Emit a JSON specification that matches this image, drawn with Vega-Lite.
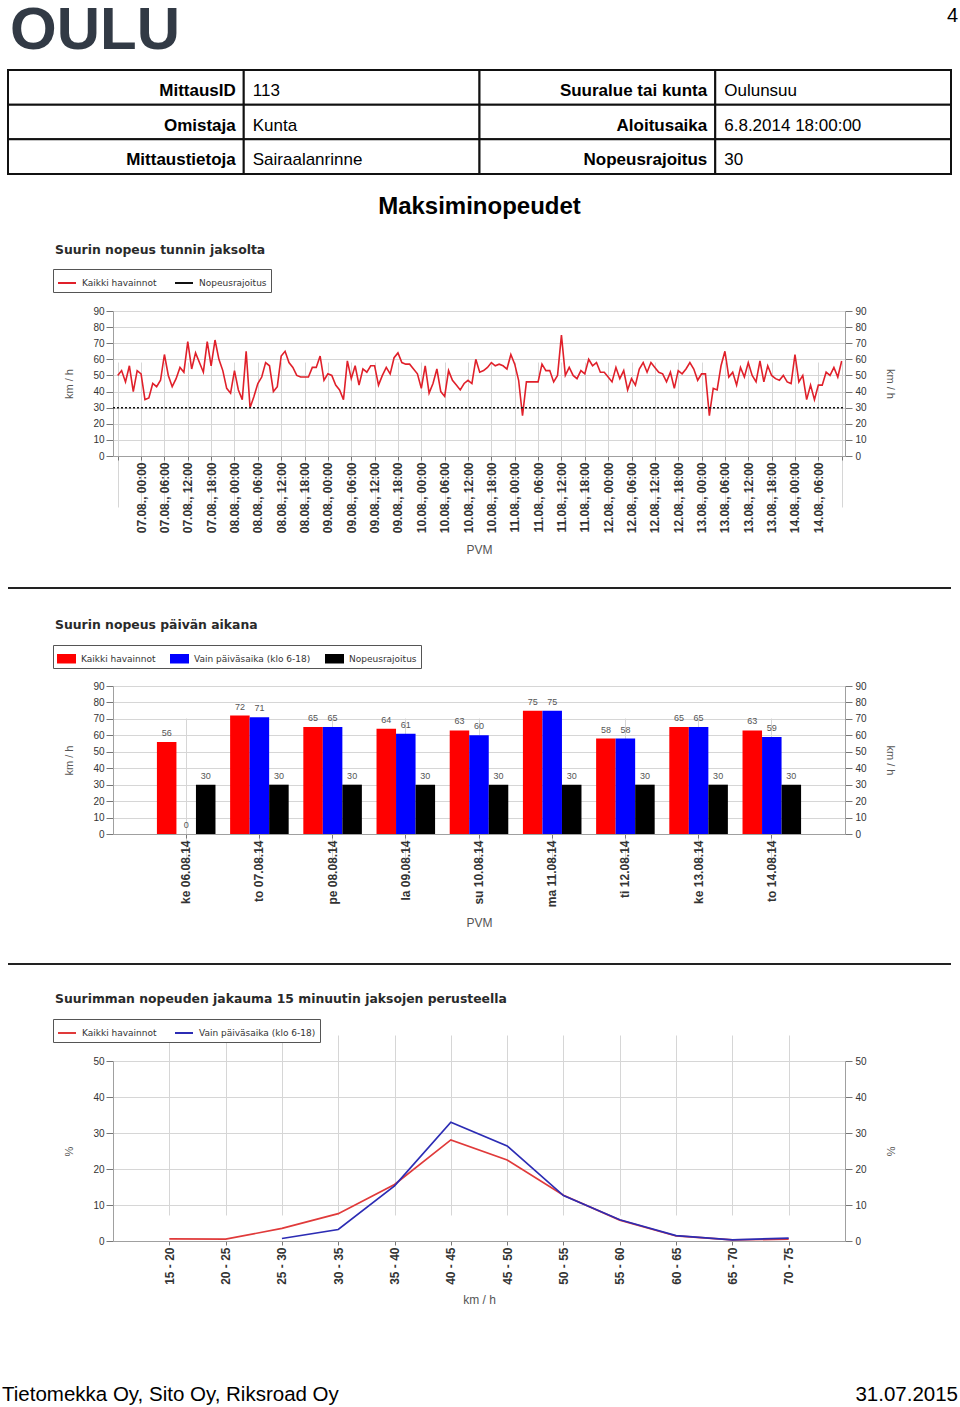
{
"$schema": "https://vega.github.io/schema/vega-lite/v6.json",
"padding": 0,
"background": "white",
"spacing": 0,
"resolve": {"scale": {"color": "independent"}, "legend": {"color": "independent"}},
"datasets": {
"table": [
{"row":1,"rowEnd":2,"col":0,"colEnd":1,"text":"MittausID","kind":"label"},
{"row":1,"rowEnd":2,"col":1,"colEnd":2,"text":"113","kind":"value"},
{"row":1,"rowEnd":2,"col":2,"colEnd":3,"text":"Suuralue tai kunta","kind":"label"},
{"row":1,"rowEnd":2,"col":3,"colEnd":4,"text":"Oulunsuu","kind":"value"},
{"row":2,"rowEnd":3,"col":0,"colEnd":1,"text":"Omistaja","kind":"label"},
{"row":2,"rowEnd":3,"col":1,"colEnd":2,"text":"Kunta","kind":"value"},
{"row":2,"rowEnd":3,"col":2,"colEnd":3,"text":"Aloitusaika","kind":"label"},
{"row":2,"rowEnd":3,"col":3,"colEnd":4,"text":"6.8.2014 18:00:00","kind":"value"},
{"row":3,"rowEnd":4,"col":0,"colEnd":1,"text":"Mittaustietoja","kind":"label"},
{"row":3,"rowEnd":4,"col":1,"colEnd":2,"text":"Sairaalanrinne","kind":"value"},
{"row":3,"rowEnd":4,"col":2,"colEnd":3,"text":"Nopeusrajoitus","kind":"label"},
{"row":3,"rowEnd":4,"col":3,"colEnd":4,"text":"30","kind":"value"}
],
"hourly": [
{"h":0,"v":50},{"h":1,"v":53},{"h":2,"v":46},{"h":3,"v":56},{"h":4,"v":40},{"h":5,"v":53},
{"h":6,"v":51},{"h":7,"v":35},{"h":8,"v":36},{"h":9,"v":45},{"h":10,"v":43},{"h":11,"v":47},{"h":12,"v":63},{"h":13,"v":50},{"h":14,"v":43},{"h":15,"v":48},{"h":16,"v":55},{"h":17,"v":52},
{"h":18,"v":71},{"h":19,"v":54},{"h":20,"v":64},{"h":21,"v":58},{"h":22,"v":52},{"h":23,"v":71},{"h":24,"v":56},{"h":25,"v":72},{"h":26,"v":60},{"h":27,"v":53},{"h":28,"v":42},{"h":29,"v":39},
{"h":30,"v":53},{"h":31,"v":41},{"h":32,"v":35},{"h":33,"v":65},{"h":34,"v":30},{"h":35,"v":37},{"h":36,"v":45},{"h":37,"v":49},{"h":38,"v":58},{"h":39,"v":56},{"h":40,"v":40},{"h":41,"v":43},
{"h":42,"v":62},{"h":43,"v":65},{"h":44,"v":58},{"h":45,"v":55},{"h":46,"v":50},{"h":47,"v":49},{"h":48,"v":49},{"h":49,"v":49},{"h":50,"v":55},{"h":51,"v":55},{"h":52,"v":62},{"h":53,"v":47},
{"h":54,"v":51},{"h":55,"v":50},{"h":56,"v":44},{"h":57,"v":41},{"h":58,"v":35},{"h":59,"v":59},{"h":60,"v":48},{"h":61,"v":56},{"h":62,"v":44},{"h":63,"v":54},{"h":64,"v":52},{"h":65,"v":56},
{"h":66,"v":56},{"h":67,"v":44},{"h":68,"v":50},{"h":69,"v":55},{"h":70,"v":51},{"h":71,"v":61},{"h":72,"v":64},{"h":73,"v":58},{"h":74,"v":57},{"h":75,"v":57},{"h":76,"v":54},{"h":77,"v":51},
{"h":78,"v":42},{"h":79,"v":56},{"h":80,"v":39},{"h":81,"v":45},{"h":82,"v":54},{"h":83,"v":40},{"h":84,"v":37},{"h":85,"v":53},{"h":86,"v":47},{"h":87,"v":44},{"h":88,"v":41},{"h":89,"v":45},
{"h":90,"v":47},{"h":91,"v":45},{"h":92,"v":60},{"h":93,"v":52},{"h":94,"v":53},{"h":95,"v":55},{"h":96,"v":58},{"h":97,"v":56},{"h":98,"v":57},{"h":99,"v":56},{"h":100,"v":54},{"h":101,"v":63},
{"h":102,"v":57},{"h":103,"v":47},{"h":104,"v":25},{"h":105,"v":46},{"h":106,"v":46},{"h":107,"v":46},{"h":108,"v":46},{"h":109,"v":57},{"h":110,"v":53},{"h":111,"v":53},{"h":112,"v":46},{"h":113,"v":50},
{"h":114,"v":75},{"h":115,"v":50},{"h":116,"v":55},{"h":117,"v":50},{"h":118,"v":48},{"h":119,"v":53},{"h":120,"v":51},{"h":121,"v":60},{"h":122,"v":56},{"h":123,"v":58},{"h":124,"v":52},{"h":125,"v":52},
{"h":126,"v":49},{"h":127,"v":46},{"h":128,"v":55},{"h":129,"v":48},{"h":130,"v":53},{"h":131,"v":41},{"h":132,"v":48},{"h":133,"v":44},{"h":134,"v":54},{"h":135,"v":58},{"h":136,"v":52},{"h":137,"v":58},
{"h":138,"v":55},{"h":139,"v":52},{"h":140,"v":51},{"h":141,"v":46},{"h":142,"v":52},{"h":143,"v":42},{"h":144,"v":53},{"h":145,"v":51},{"h":146,"v":54},{"h":147,"v":58},{"h":148,"v":54},{"h":149,"v":47},
{"h":150,"v":51},{"h":151,"v":51},{"h":152,"v":25},{"h":153,"v":42},{"h":154,"v":41},{"h":155,"v":56},{"h":156,"v":65},{"h":157,"v":49},{"h":158,"v":52},{"h":159,"v":44},{"h":160,"v":55},{"h":161,"v":49},
{"h":162,"v":58},{"h":163,"v":50},{"h":164,"v":46},{"h":165,"v":59},{"h":166,"v":46},{"h":167,"v":56},{"h":168,"v":50},{"h":169,"v":48},{"h":170,"v":47},{"h":171,"v":50},{"h":172,"v":46},{"h":173,"v":45},
{"h":174,"v":63},{"h":175,"v":46},{"h":176,"v":50},{"h":177,"v":35},{"h":178,"v":44},{"h":179,"v":35},{"h":180,"v":44},{"h":181,"v":44},{"h":182,"v":52},{"h":183,"v":50},{"h":184,"v":55},{"h":185,"v":49},
{"h":186,"v":59}
],
"daily": [
{"day":"ke 06.08.14","s":"Kaikki havainnot","v":56},{"day":"ke 06.08.14","s":"Vain päiväsaika (klo 6-18)","v":0},{"day":"ke 06.08.14","s":"Nopeusrajoitus","v":30},
{"day":"to 07.08.14","s":"Kaikki havainnot","v":72},{"day":"to 07.08.14","s":"Vain päiväsaika (klo 6-18)","v":71},{"day":"to 07.08.14","s":"Nopeusrajoitus","v":30},
{"day":"pe 08.08.14","s":"Kaikki havainnot","v":65},{"day":"pe 08.08.14","s":"Vain päiväsaika (klo 6-18)","v":65},{"day":"pe 08.08.14","s":"Nopeusrajoitus","v":30},
{"day":"la 09.08.14","s":"Kaikki havainnot","v":64},{"day":"la 09.08.14","s":"Vain päiväsaika (klo 6-18)","v":61},{"day":"la 09.08.14","s":"Nopeusrajoitus","v":30},
{"day":"su 10.08.14","s":"Kaikki havainnot","v":63},{"day":"su 10.08.14","s":"Vain päiväsaika (klo 6-18)","v":60},{"day":"su 10.08.14","s":"Nopeusrajoitus","v":30},
{"day":"ma 11.08.14","s":"Kaikki havainnot","v":75},{"day":"ma 11.08.14","s":"Vain päiväsaika (klo 6-18)","v":75},{"day":"ma 11.08.14","s":"Nopeusrajoitus","v":30},
{"day":"ti 12.08.14","s":"Kaikki havainnot","v":58},{"day":"ti 12.08.14","s":"Vain päiväsaika (klo 6-18)","v":58},{"day":"ti 12.08.14","s":"Nopeusrajoitus","v":30},
{"day":"ke 13.08.14","s":"Kaikki havainnot","v":65},{"day":"ke 13.08.14","s":"Vain päiväsaika (klo 6-18)","v":65},{"day":"ke 13.08.14","s":"Nopeusrajoitus","v":30},
{"day":"to 14.08.14","s":"Kaikki havainnot","v":63},{"day":"to 14.08.14","s":"Vain päiväsaika (klo 6-18)","v":59},{"day":"to 14.08.14","s":"Nopeusrajoitus","v":30}
],
"dist": [
{"bin":"15 - 20","s":"Kaikki havainnot","p":0.6},{"bin":"20 - 25","s":"Kaikki havainnot","p":0.5},{"bin":"25 - 30","s":"Kaikki havainnot","p":3.5},{"bin":"30 - 35","s":"Kaikki havainnot","p":7.6},
{"bin":"35 - 40","s":"Kaikki havainnot","p":15.7},{"bin":"40 - 45","s":"Kaikki havainnot","p":28.1},{"bin":"45 - 50","s":"Kaikki havainnot","p":22.5},{"bin":"50 - 55","s":"Kaikki havainnot","p":12.7},
{"bin":"55 - 60","s":"Kaikki havainnot","p":5.8},{"bin":"60 - 65","s":"Kaikki havainnot","p":1.4},{"bin":"65 - 70","s":"Kaikki havainnot","p":0.3},{"bin":"70 - 75","s":"Kaikki havainnot","p":0.5},
{"bin":"25 - 30","s":"Vain päiväsaika (klo 6-18)","p":0.7},{"bin":"30 - 35","s":"Vain päiväsaika (klo 6-18)","p":3.2},{"bin":"35 - 40","s":"Vain päiväsaika (klo 6-18)","p":15.3},
{"bin":"40 - 45","s":"Vain päiväsaika (klo 6-18)","p":33.0},{"bin":"45 - 50","s":"Vain päiväsaika (klo 6-18)","p":26.4},{"bin":"50 - 55","s":"Vain päiväsaika (klo 6-18)","p":12.6},
{"bin":"55 - 60","s":"Vain päiväsaika (klo 6-18)","p":5.9},{"bin":"60 - 65","s":"Vain päiväsaika (klo 6-18)","p":1.5},{"bin":"65 - 70","s":"Vain päiväsaika (klo 6-18)","p":0.3},{"bin":"70 - 75","s":"Vain päiväsaika (klo 6-18)","p":0.8}
]
},
"vconcat": [
{
"width": 960, "height": 230,
"layer": [
{"data": {"name": "table"},
 "mark": {"type": "rect", "fill": "white", "stroke": "#111111", "strokeWidth": 2},
 "encoding": {
  "x": {"field": "col", "type": "quantitative", "scale": {"domain": [0, 4], "range": [8, 951], "nice": false, "zero": false}, "axis": null},
  "x2": {"field": "colEnd"},
  "y": {"field": "row", "type": "quantitative", "scale": {"domain": [0, 5], "range": [34.33, 207.67], "nice": false, "zero": false}, "axis": null},
  "y2": {"field": "rowEnd"}}},
{"data": {"name": "table"}, "transform": [{"filter": "datum.kind === 'label'"}],
 "mark": {"type": "text", "align": "right", "baseline": "alphabetic", "dx": -8, "dy": -8.7, "font": "Liberation Sans", "fontSize": 17, "fontWeight": "bold", "color": "#000000"},
 "encoding": {"x": {"field": "colEnd", "type": "quantitative"}, "y": {"field": "rowEnd", "type": "quantitative"}, "text": {"field": "text"}}},
{"data": {"name": "table"}, "transform": [{"filter": "datum.kind === 'value'"}],
 "mark": {"type": "text", "align": "left", "baseline": "alphabetic", "dx": 9, "dy": -8.7, "font": "Liberation Sans", "fontSize": 17, "color": "#000000"},
 "encoding": {"x": {"field": "col", "type": "quantitative"}, "y": {"field": "rowEnd", "type": "quantitative"}, "text": {"field": "text"}}},
{"data": {"values": [{"col": 0, "rowEnd": 1, "text": "OULU"}]},
 "mark": {"type": "text", "align": "left", "baseline": "alphabetic", "dx": 2, "dy": -21, "font": "Liberation Sans", "fontSize": 60, "fontWeight": "bold", "color": "#323a45"},
 "encoding": {"x": {"field": "col", "type": "quantitative"}, "y": {"field": "rowEnd", "type": "quantitative"}, "text": {"field": "text"}}},
{"data": {"values": [{"colEnd": 4, "rowEnd": 1, "text": "4"}]},
 "mark": {"type": "text", "align": "right", "baseline": "alphabetic", "dx": 7, "dy": -48, "font": "Liberation Sans", "fontSize": 20, "color": "#000000"},
 "encoding": {"x": {"field": "colEnd", "type": "quantitative"}, "y": {"field": "rowEnd", "type": "quantitative"}, "text": {"field": "text"}}},
{"data": {"values": [{"colEnd": 2, "rowEnd": 5, "text": "Maksiminopeudet"}]},
 "mark": {"type": "text", "align": "center", "baseline": "alphabetic", "dy": 5.3, "font": "Liberation Sans", "fontSize": 24, "fontWeight": "bold", "color": "#000000"},
 "encoding": {"x": {"field": "colEnd", "type": "quantitative"}, "y": {"field": "rowEnd", "type": "quantitative"}, "text": {"field": "text"}}}
]
},
{
"width": 960, "height": 356,
"title": {"text": "Suurin nopeus tunnin jaksolta", "offset": -25},
"layer": [
{"data": {"name": "hourly"},
 "mark": {"type": "line", "strokeWidth": 1.6},
 "encoding": {
  "x": {"field": "h", "type": "quantitative",
   "scale": {"domain": [-1.21, 186.85], "range": [113, 845], "nice": false, "zero": false},
   "axis": {"title": "PVM", "offset": -131, "tickCount": 40,
    "values": [0,6,12,18,24,30,36,42,48,54,60,66,72,78,84,90,96,102,108,114,120,126,132,138,144,150,156,162,168,174,180,186],
    "labelExpr": "(datum.value < 6 || datum.value > 180) ? '' : ((floor((datum.value + 18) / 24) + 6 < 10 ? '0' : '') + (floor((datum.value + 18) / 24) + 6) + '.08., ' + ((datum.value + 18) % 24 < 10 ? '0' : '') + ((datum.value + 18) % 24) + ':00')",
    "labelAngle": -90, "labelFontSize": 12, "labelFontWeight": "bold", "tickSize": 4, "labelPadding": 2, "grid": true, "titlePadding": 12, "labelOverlap": false, "labelFlush": false}},
  "y": {"field": "v", "type": "quantitative", "scale": {"domain": [0, 90], "range": [225, 80], "nice": false},
   "axis": {"orient": "left", "offset": -113, "title": "km / h", "tickCount": 20, "values": [0,10,20,30,40,50,60,70,80,90], "tickSize": 7, "labelFontSize": 10, "labelPadding": 2, "grid": true, "titlePadding": 18, "titleFontSize": 11}},
  "color": {"datum": "Kaikki havainnot", "type": "nominal",
   "scale": {"domain": ["Kaikki havainnot", "Nopeusrajoitus"], "range": ["#e0202a", "#111111"]},
   "legend": {"title": null, "orient": "none", "legendX": 53, "legendY": 38, "direction": "horizontal", "symbolType": "stroke", "symbolSize": 324, "symbolStrokeWidth": 2}}}},
{"data": {"values": [{"limit": 30, "from": -1.21, "to": 186.85}]},
 "mark": {"type": "rule", "strokeWidth": 1.5, "strokeDash": [2, 2]},
 "encoding": {
  "x": {"field": "from", "type": "quantitative"},
  "x2": {"field": "to"},
  "y": {"field": "limit", "type": "quantitative",
   "axis": {"orient": "right", "offset": -115, "title": "km / h", "tickCount": 20, "values": [0,10,20,30,40,50,60,70,80,90], "tickSize": 7, "labelFontSize": 10, "labelPadding": 3, "grid": false, "titlePadding": 18, "titleFontSize": 11}},
  "color": {"datum": "Nopeusrajoitus", "type": "nominal"}}}
],
"resolve": {"axis": {"y": "independent"}}
},
{"width": 960, "height": 1, "data": {"values": [{"a": 0, "b": 1}]},
 "mark": {"type": "rule", "strokeWidth": 2, "color": "#222222"},
 "encoding": {"x": {"field": "a", "type": "quantitative", "scale": {"domain": [0, 1], "range": [8, 951], "nice": false, "zero": false}, "axis": null}, "x2": {"field": "b"}, "y": {"value": "height"}}},
{
"width": 960, "height": 374,
"title": {"text": "Suurin nopeus päivän aikana", "offset": -42},
"data": {"name": "daily"},
"encoding": {
 "x": {"field": "day", "type": "nominal", "sort": null,
  "scale": {"domain": ["ke 06.08.14","to 07.08.14","pe 08.08.14","la 09.08.14","su 10.08.14","ma 11.08.14","ti 12.08.14","ke 13.08.14","to 14.08.14"], "range": [113, 845], "paddingInner": 0.2, "paddingOuter": 0.6},
  "axis": {"title": "PVM", "offset": -129, "labelAngle": -90, "labelFontSize": 12, "labelFontWeight": "bold", "tickSize": 4, "labelPadding": 2, "grid": true, "bandPosition": 0.5, "titlePadding": 11}},
 "xOffset": {"field": "s", "type": "nominal", "scale": {"domain": ["Kaikki havainnot", "Vain päiväsaika (klo 6-18)", "Nopeusrajoitus"]}}
},
"layer": [
{"mark": {"type": "bar"},
 "encoding": {
  "y": {"field": "v", "type": "quantitative", "scale": {"domain": [0, 90], "range": [245, 97], "nice": false},
   "axis": {"orient": "left", "offset": -113, "title": "km / h", "tickCount": 20, "values": [0,10,20,30,40,50,60,70,80,90], "tickSize": 7, "labelFontSize": 10, "labelPadding": 2, "grid": true, "titlePadding": 18, "titleFontSize": 11}},
  "color": {"field": "s", "type": "nominal",
   "scale": {"domain": ["Kaikki havainnot", "Vain päiväsaika (klo 6-18)", "Nopeusrajoitus"], "range": ["#ff0000", "#0000ff", "#000000"]},
   "legend": {"title": null, "orient": "none", "legendX": 53, "legendY": 56, "direction": "horizontal", "symbolType": "M-1,-0.5H1V0.5H-1Z", "symbolSize": 361, "symbolStrokeWidth": 0}}}},
{"mark": {"type": "text", "baseline": "bottom", "dy": -4, "fontSize": 9, "font": "Liberation Sans", "color": "#555555"},
 "encoding": {
  "y": {"field": "v", "type": "quantitative",
   "axis": {"orient": "right", "offset": -115, "title": "km / h", "tickCount": 20, "values": [0,10,20,30,40,50,60,70,80,90], "tickSize": 7, "labelFontSize": 10, "labelPadding": 3, "grid": false, "titlePadding": 18, "titleFontSize": 11}},
  "text": {"field": "v", "type": "quantitative"}}}
],
"resolve": {"axis": {"y": "independent"}}
},
{"width": 960, "height": 1, "data": {"values": [{"a": 0, "b": 1}]},
 "mark": {"type": "rule", "strokeWidth": 2, "color": "#222222"},
 "encoding": {"x": {"field": "a", "type": "quantitative", "scale": {"domain": [0, 1], "range": [8, 951], "nice": false, "zero": false}, "axis": null}, "x2": {"field": "b"}, "y": {"value": "height"}}},
{
"width": 960, "height": 346,
"title": {"text": "Suurimman nopeuden jakauma 15 minuutin jaksojen perusteella", "offset": -40},
"data": {"name": "dist"},
"encoding": {
 "x": {"field": "bin", "type": "ordinal", "sort": null,
  "scale": {"type": "point", "padding": 1, "range": [113, 845], "domain": ["15 - 20","20 - 25","25 - 30","30 - 35","35 - 40","40 - 45","45 - 50","50 - 55","55 - 60","60 - 65","65 - 70","70 - 75"]},
  "axis": {"title": "km / h", "offset": -70, "labelAngle": -90, "labelFontSize": 12, "labelFontWeight": "bold", "tickSize": 4, "labelPadding": 2, "grid": true, "titlePadding": 10}},
 "color": {"field": "s", "type": "nominal",
  "scale": {"domain": ["Kaikki havainnot", "Vain päiväsaika (klo 6-18)"], "range": ["#e03a3a", "#2c2cb4"]},
  "legend": {"title": null, "orient": "none", "legendX": 53, "legendY": 54, "direction": "horizontal", "symbolType": "stroke", "symbolSize": 324, "symbolStrokeWidth": 2}}
},
"layer": [
{"transform": [{"filter": "datum.s === 'Kaikki havainnot'"}],
 "mark": {"type": "line", "strokeWidth": 1.7},
 "encoding": {"y": {"field": "p", "type": "quantitative", "scale": {"domain": [0, 50], "range": [276, 96], "nice": false},
  "axis": {"orient": "left", "offset": -113, "title": "%", "tickCount": 20, "values": [0,10,20,30,40,50], "tickSize": 7, "labelFontSize": 10, "labelPadding": 2, "grid": true, "titlePadding": 18, "titleFontSize": 11}}}},
{"transform": [{"filter": "datum.s !== 'Kaikki havainnot'"}],
 "mark": {"type": "line", "strokeWidth": 1.7},
 "encoding": {"y": {"field": "p", "type": "quantitative",
  "axis": {"orient": "right", "offset": -115, "title": "%", "tickCount": 20, "values": [0,10,20,30,40,50], "tickSize": 7, "labelFontSize": 10, "labelPadding": 3, "grid": false, "titlePadding": 18, "titleFontSize": 11}}}}
],
"resolve": {"axis": {"y": "independent"}}
},
{
"width": 960, "height": 90,
"layer": [
{"data": {"values": [{"col": 0, "text": "Tietomekka Oy, Sito Oy, Riksroad Oy"}]},
 "mark": {"type": "text", "align": "left", "baseline": "alphabetic", "font": "Liberation Sans", "fontSize": 20.5, "color": "#000000"},
 "encoding": {"x": {"field": "col", "type": "quantitative", "scale": {"domain": [0, 1], "range": [2, 958], "nice": false, "zero": false}, "axis": null}, "y": {"value": "height"}, "text": {"field": "text"}}},
{"data": {"values": [{"col": 1, "text": "31.07.2015"}]},
 "mark": {"type": "text", "align": "right", "baseline": "alphabetic", "font": "Liberation Sans", "fontSize": 20.5, "color": "#000000"},
 "encoding": {"x": {"field": "col", "type": "quantitative"}, "y": {"value": "height"}, "text": {"field": "text"}}}
]
}
],
"config": {
 "view": {"stroke": null},
 "font": "Liberation Sans",
 "title": {"font": "DejaVu Sans", "fontSize": 12.4, "fontWeight": "bold", "color": "#2a2a2a", "anchor": "start", "frame": "group", "dx": 55, "baseline": "alphabetic"},
 "axis": {"labelFont": "Liberation Sans", "titleFont": "Liberation Sans", "titleFontWeight": "normal", "titleFontSize": 12, "titleColor": "#555555", "labelColor": "#333333", "domainColor": "#a0a0a0", "tickColor": "#777777", "gridColor": "#d6d6d6"},
 "legend": {"strokeColor": "#555555", "fillColor": "#ffffff", "padding": 4, "labelFont": "DejaVu Sans", "labelFontSize": 9, "labelColor": "#333333", "labelOffset": 5, "columnPadding": 14}
}
}
